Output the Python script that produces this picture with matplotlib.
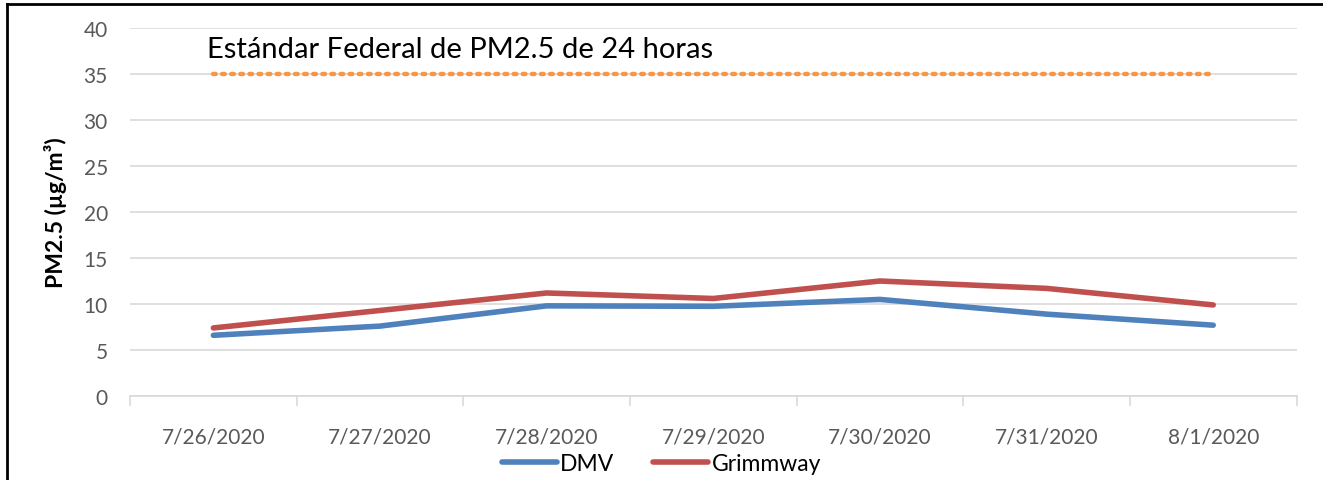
import matplotlib
matplotlib.use('Agg')
import matplotlib.pyplot as plt
from matplotlib.lines import Line2D

plt.rcParams['font.family'] = ['Lato', 'DejaVu Sans']

dates = ['7/26/2020', '7/27/2020', '7/28/2020', '7/29/2020', '7/30/2020', '7/31/2020', '8/1/2020']
dmv = [6.6, 7.6, 9.8, 9.75, 10.5, 8.9, 7.7]
grimmway = [7.4, 9.3, 11.2, 10.6, 12.5, 11.7, 9.9]
standard = [35] * len(dates)
standard_label = 'Estándar Federal de PM2.5 de 24 horas'

fig = plt.figure(figsize=(13.23, 4.81), dpi=100)
ax = fig.add_axes([0.0983, 0.1746, 0.8817, 0.7651])

x = list(range(len(dates)))
ax.plot(x, standard, color='#f79646', linestyle=(0, (0.6, 1.45)), linewidth=3.2,
        dash_capstyle='round', zorder=3)
ax.plot(x, dmv, color='#4f81bd', linewidth=4, solid_capstyle='round', label='DMV', zorder=4)
ax.plot(x, grimmway, color='#c0504d', linewidth=4, solid_capstyle='round', label='Grimmway', zorder=4)

ax.text(-0.04, 36.3, standard_label, fontsize=21, color='black', ha='left', va='bottom')

ax.set_xlim(-0.5, len(dates) - 0.5)
ax.set_ylim(0, 40)
ax.set_yticks(range(0, 41, 5))
ax.set_xticks(x)
ax.set_xticklabels(dates)
ax.set_xticks([i - 0.5 for i in range(len(dates) + 1)], minor=True)
ax.tick_params(axis='x', which='major', length=0, pad=22, labelsize=15, labelcolor='#595959')
ax.tick_params(axis='x', which='minor', length=7, color='#d9d9d9', width=1.2)
ax.tick_params(axis='y', length=0, pad=16, labelsize=15, labelcolor='#595959')
ax.grid(axis='y', color='#d9d9d9', linewidth=1.2)
ax.set_axisbelow(True)
for s in ['left', 'right', 'top']:
    ax.spines[s].set_visible(False)
ax.spines['bottom'].set_color('#d9d9d9')
ax.spines['bottom'].set_linewidth(1.2)

ax.set_ylabel('PM2.5 (µg/m³)', fontsize=16.5, fontweight='bold', labelpad=12)

fig.legend(loc='center', bbox_to_anchor=(0.5, 1 - 465 / 481), ncol=2, frameon=False,
           fontsize=16.5, handlelength=2.4, handletextpad=0.15, columnspacing=1.7)

# border around the chart (left and top visible)
fig.add_artist(Line2D([7 / 1323, 7 / 1323], [0, 1 - 5 / 481], transform=fig.transFigure,
                      color='black', linewidth=2))
fig.add_artist(Line2D([7 / 1323, 1], [1 - 5 / 481, 1 - 5 / 481], transform=fig.transFigure,
                      color='black', linewidth=2))

fig.savefig('out.png', dpi=100)
